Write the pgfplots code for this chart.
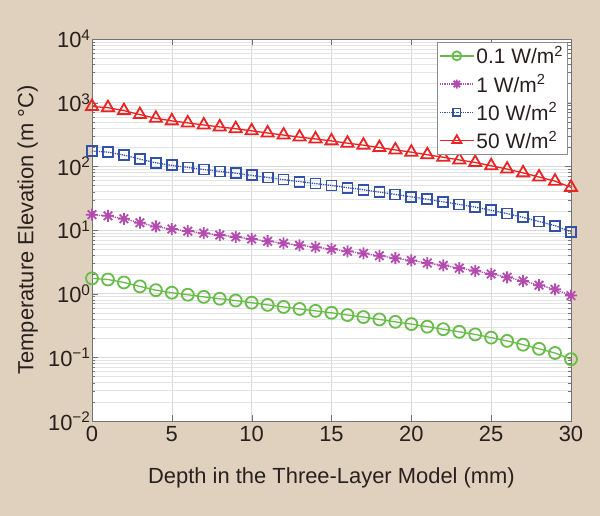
\documentclass[border=0pt]{standalone}
\usepackage{pgfplots}
\pgfplotsset{compat=1.18}
\usepackage{pgfplotstable}
\usepackage{fontspec}
\setmainfont{Liberation Sans}
\definecolor{bg}{RGB}{223,209,189}
\definecolor{cgreen}{RGB}{102,190,70}
\definecolor{cmag}{RGB}{180,75,174}
\definecolor{cblue}{RGB}{50,82,170}
\definecolor{cred}{RGB}{235,35,35}
\definecolor{txt}{RGB}{40,32,30}
\pgfdeclareplotmark{mstar}{%
  \pgfpathmoveto{\pgfqpoint{-\pgfplotmarksize}{0pt}}\pgfpathlineto{\pgfqpoint{\pgfplotmarksize}{0pt}}%
  \pgfpathmoveto{\pgfqpoint{0pt}{-\pgfplotmarksize}}\pgfpathlineto{\pgfqpoint{0pt}{\pgfplotmarksize}}%
  \pgfpathmoveto{\pgfqpoint{-0.707\pgfplotmarksize}{-0.707\pgfplotmarksize}}\pgfpathlineto{\pgfqpoint{0.707\pgfplotmarksize}{0.707\pgfplotmarksize}}%
  \pgfpathmoveto{\pgfqpoint{-0.707\pgfplotmarksize}{0.707\pgfplotmarksize}}\pgfpathlineto{\pgfqpoint{0.707\pgfplotmarksize}{-0.707\pgfplotmarksize}}%
  \pgfusepathqstroke}
\pgfplotstableread{
x a b c d
0 1.740 17.40 174.0 870
1 1.670 16.70 167.0 835
2 1.500 15.00 150.0 750
3 1.300 13.00 130.0 650
4 1.135 11.35 113.5 568
5 1.035 10.35 103.5 518
6 0.962 9.62 96.2 481
7 0.891 8.91 89.1 446
8 0.832 8.32 83.2 416
9 0.780 7.80 78.0 390
10 0.721 7.21 72.1 361
11 0.667 6.67 66.7 334
12 0.619 6.19 61.9 310
13 0.575 5.75 57.5 288
14 0.537 5.37 53.7 269
15 0.501 5.01 50.1 251
16 0.462 4.62 46.2 231
17 0.429 4.29 42.9 215
18 0.394 3.94 39.4 197
19 0.361 3.61 36.1 181
20 0.333 3.33 33.3 167
21 0.303 3.03 30.3 152
22 0.277 2.77 27.7 139
23 0.252 2.52 25.2 126
24 0.229 2.29 22.9 115
25 0.204 2.04 20.4 102
26 0.181 1.81 18.1 90.5
27 0.158 1.58 15.8 79
28 0.136 1.36 13.6 68
29 0.117 1.17 11.7 58.5
30 0.0935 0.935 9.35 46.7
}\datatable
\begin{document}
\begin{tikzpicture}
\fill[bg] (-92bp,-95bp) rectangle (508bp,421bp);
\useasboundingbox (-92bp,-95bp) rectangle (508bp,421bp);
\begin{axis}[
  at={(0,0)}, anchor=south west,
  scale only axis, width=479bp, height=382bp,
  axis background/.style={fill=white},
  xmin=0, xmax=30, ymode=log, ymin=1e-2, ymax=1e4,
  xtick={0,5,...,30},
  ytick={1e-2,1e-1,1,10,100,1000,10000},
  yticklabels={10\textsuperscript{−2},10\textsuperscript{−1},10\textsuperscript{0},10\textsuperscript{1},10\textsuperscript{2},10\textsuperscript{3},10\textsuperscript{4}},
  /pgf/number format/assume math mode=true,
  ticklabel style={font=\fontsize{22}{22}\selectfont, text=txt},
  xticklabel style={yshift=-2bp},
  yticklabel style={xshift=2bp},
  axis line style={draw=black!55},
  tick style={draw=black!55},
  major tick length=6bp, minor tick length=3bp,
  tick align=inside,
  grid=both,
  major grid style={draw=black!15, line width=0.6pt},
  minor grid style={draw=black!11, line width=0.5pt},
  xlabel={Depth in the Three-Layer Model (mm)},
  ylabel={Temperature Elevation (m °C)},
  every axis x label/.style={at={(axis description cs:0.5,0)}, anchor=center, yshift=-57bp, font=\fontsize{22}{22}\selectfont, text=txt},
  every axis y label/.style={at={(axis description cs:-0.134,0.5)}, rotate=90, anchor=center, font=\fontsize{22}{22}\selectfont, text=txt},
  legend style={at={(0.992,0.992)}, anchor=north east, draw=black!45, fill=white,
    font=\fontsize{21}{23}\selectfont, text=txt, inner sep=2bp, row sep=5bp, cells={anchor=west}},
  legend image code/.code={\draw[mark repeat=2,mark phase=2,#1,every mark/.append style={scale=0.75}] plot coordinates {(0cm,0cm) (0.6cm,0cm) (1.2cm,0cm)};},
]
\addplot[color=cgreen, line width=1.3pt, mark=o, mark size=6bp, mark options={solid, line width=1.8pt}] table[x=x,y=a] {\datatable};
\addlegendentry{0.1 W/m\textsuperscript{2}}
\addplot[color=cmag, line width=1.3pt, densely dotted, mark=mstar, mark size=6bp, mark options={solid, line width=1.8pt}] table[x=x,y=b] {\datatable};
\addlegendentry{1 W/m\textsuperscript{2}}
\addplot[color=cblue, line width=1.3pt, densely dotted, mark=square, mark size=5bp, mark options={solid, line width=1.8pt}] table[x=x,y=c] {\datatable};
\addlegendentry{10 W/m\textsuperscript{2}}
\addplot[color=cred, line width=1.3pt, mark=triangle, mark size=7bp, mark options={solid, line width=1.8pt}] table[x=x,y=d] {\datatable};
\addlegendentry{50 W/m\textsuperscript{2}}
\end{axis}
\end{tikzpicture}
\end{document}
